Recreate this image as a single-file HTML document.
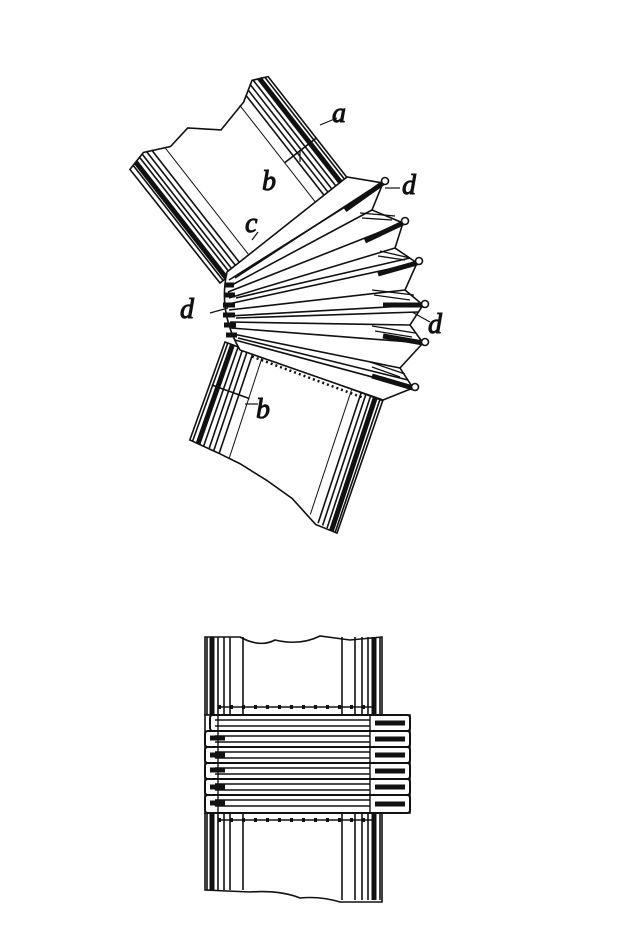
<!DOCTYPE html>
<html><head><meta charset="utf-8"><style>
html,body{margin:0;padding:0;background:#fff;}
svg{display:block}
text{font-family:"Liberation Serif",serif;font-style:italic;font-size:28px;fill:#111}
</style></head><body>
<svg width="644" height="934" viewBox="0 0 644 934" xmlns="http://www.w3.org/2000/svg" stroke="#111" fill="none">
<!-- Upper tube -->
<g transform="translate(220,283) rotate(-38)" stroke-width="1.6">
  <path d="M0,0 L-1,-145 L20,-150 L45,-138 L70,-142 L95,-120 L130,-128 L150,-140 L165,-133 L165,0 Z" fill="#fff"/>
  <line x1="4" y1="0" x2="4" y2="-146"/>
  <line x1="8" y1="0" x2="8" y2="-147" stroke-width="5"/>
  <line x1="14" y1="0" x2="14" y2="-148"/>
  <line x1="18" y1="0" x2="18" y2="-149"/>
  <line x1="23" y1="0" x2="23" y2="-149"/>
  <line x1="28" y1="0" x2="28" y2="-147"/>
  <line x1="40" y1="0" x2="40" y2="-140" stroke-width="1"/>
  <line x1="125" y1="0" x2="125" y2="-128" stroke-width="1"/>
  <line x1="136" y1="0" x2="136" y2="-132"/>
  <line x1="141" y1="0" x2="141" y2="-135"/>
  <line x1="146" y1="0" x2="146" y2="-138"/>
  <line x1="151" y1="0" x2="151" y2="-139"/>
  <line x1="157" y1="0" x2="157" y2="-137" stroke-width="5"/>
  <line x1="162" y1="0" x2="162" y2="-134"/>
  <line x1="20" y1="-4" x2="150" y2="-4" stroke-dasharray="2 4" stroke-width="2.5"/>
  <line x1="125" y1="-55" x2="165" y2="-55"/>
</g>
<!-- Lower tube -->
<g transform="translate(225,342) rotate(17)" stroke-width="1.6">
  <path d="M0,0 L168,10 L163,150 L140,148 L110,130 L80,120 L50,112 L25,108 L-5,104 Z" fill="#fff"/>
  <line x1="3" y1="0" x2="-2" y2="104"/>
  <line x1="8" y1="0" x2="4" y2="105" stroke-width="5"/>
  <line x1="14" y1="1" x2="10" y2="106"/>
  <line x1="19" y1="1" x2="16" y2="106"/>
  <line x1="24" y1="1" x2="21" y2="107"/>
  <line x1="30" y1="2" x2="27" y2="108"/>
  <line x1="40" y1="3" x2="38" y2="110" stroke-width="1"/>
  <line x1="135" y1="9" x2="132" y2="140" stroke-width="1"/>
  <line x1="145" y1="9" x2="142" y2="146"/>
  <line x1="150" y1="9" x2="147" y2="147"/>
  <line x1="155" y1="10" x2="152" y2="148"/>
  <line x1="160" y1="10" x2="157" y2="149" stroke-width="5"/>
  <line x1="165" y1="10" x2="161" y2="150"/>
  <line x1="30" y1="6" x2="150" y2="13" stroke-dasharray="2 3" stroke-width="2.5"/>
  <line x1="0" y1="45" x2="40" y2="47"/>
</g>
<!-- Fan -->
<g stroke-width="1.6">
  <path d="M227,272 L347,177 L383,183 L372,210 L403,223 L395,248 L417,263 L405,290 L423,305 L410,325 L423,343 L400,368 L413,388 L383,400 L240,350 Q218,312 227,272 Z" fill="#fff"/>
  <g>
    <line x1="229" y1="280" x2="383" y2="183"/><line x1="230" y1="286" x2="372" y2="210"/>
    <line x1="228" y1="292" x2="403" y2="223"/><line x1="229" y1="298" x2="395" y2="248"/>
    <line x1="228" y1="304" x2="417" y2="263"/><line x1="229" y1="310" x2="405" y2="290"/>
    <line x1="229" y1="316" x2="423" y2="305"/><line x1="230" y1="322" x2="410" y2="325"/>
    <line x1="231" y1="328" x2="423" y2="343"/><line x1="233" y1="334" x2="400" y2="368"/>
    <line x1="235" y1="340" x2="413" y2="388"/>
    <line x1="235" y1="278" x2="370" y2="190"/><line x1="236" y1="298" x2="410" y2="258"/>
    <line x1="236" y1="318" x2="418" y2="312"/><line x1="238" y1="338" x2="408" y2="380"/>
  </g>
  <g stroke-width="5">
    <line x1="345" y1="210" x2="383" y2="183"/><line x1="365" y1="241" x2="403" y2="223"/>
    <line x1="378" y1="274" x2="417" y2="263"/><line x1="383" y1="305" x2="423" y2="305"/>
    <line x1="383" y1="336" x2="423" y2="343"/><line x1="372" y1="376" x2="413" y2="388"/>
  </g>
  <g fill="#fff" stroke-width="1.6">
    <circle cx="385" cy="181" r="3.5"/><circle cx="405" cy="221" r="3.5"/>
    <circle cx="419" cy="261" r="3.5"/><circle cx="425" cy="304" r="3.5"/>
    <circle cx="425" cy="342" r="3.5"/><circle cx="415" cy="387" r="3.5"/>
  </g>
  <g stroke-width="1.3">
    <line x1="360" y1="213" x2="395" y2="216"/><line x1="362" y1="218" x2="392" y2="220"/>
    <line x1="380" y1="251" x2="410" y2="258"/><line x1="378" y1="256" x2="405" y2="260"/>
    <line x1="372" y1="290" x2="414" y2="295"/><line x1="374" y1="295" x2="410" y2="300"/>
    <line x1="372" y1="326" x2="415" y2="333"/><line x1="375" y1="331" x2="412" y2="337"/>
    <line x1="370" y1="362" x2="405" y2="374"/><line x1="372" y1="367" x2="400" y2="377"/>
  </g>
  <path d="M225,285 L234,285 M224,295 L235,295 M223,305 L235,305 M223,315 L235,315 M224,325 L236,325 M226,335 L237,335" stroke-width="5"/>
</g>
<!-- leaders -->
<g stroke-width="1.2">
  <path d="M320,125 L337,118"/><path d="M300,162 L300,150"/><path d="M252,240 L258,232"/>
  <path d="M385,188 L400,188"/><path d="M210,313 L228,308"/><path d="M412,312 L430,322"/>
  <path d="M245,404 L258,404"/>
</g>
<text x="332" y="122">a</text>
<text x="262" y="190">b</text>
<text x="245" y="232">c</text>
<text x="402" y="194">d</text>
<text x="180" y="318">d</text>
<text x="428" y="333">d</text>
<text x="256" y="418">b</text>
<!-- Bottom figure -->
<g stroke-width="1.6">
  <path d="M205,637 L240,637 Q260,648 275,640 Q300,646 320,636 L350,640 L382,637 L382,715 L205,715 Z" fill="#fff"/>
  <path d="M205,813 L382,813 L382,902 L340,902 Q320,896 300,898 Q280,890 250,892 L205,890 Z" fill="#fff"/>
  <g>
    <line x1="207" y1="637" x2="207" y2="890"/><line x1="212" y1="637" x2="212" y2="890" stroke-width="5"/>
    <line x1="218" y1="637" x2="218" y2="890"/><line x1="224" y1="637" x2="224" y2="890"/>
    <line x1="230" y1="637" x2="230" y2="890"/><line x1="243" y1="637" x2="243" y2="890"/>
    <line x1="342" y1="637" x2="342" y2="900"/><line x1="355" y1="637" x2="355" y2="900"/>
    <line x1="362" y1="637" x2="362" y2="900"/><line x1="368" y1="637" x2="368" y2="900"/>
    <line x1="374" y1="637" x2="374" y2="900" stroke-width="5"/><line x1="380" y1="637" x2="380" y2="900"/>
    <line x1="218" y1="707" x2="375" y2="707" stroke-dasharray="3 9" stroke-width="4"/>
    <line x1="218" y1="820" x2="375" y2="820" stroke-dasharray="3 9" stroke-width="4"/>
    <line x1="218" y1="707" x2="375" y2="707"/><line x1="218" y1="820" x2="375" y2="820"/>
  </g>
  <rect x="205" y="715" width="205" height="98" fill="#fff"/>
  <g stroke-width="2">
    <rect x="210" y="715" width="200" height="16" rx="3" fill="#fff"/>
    <rect x="205" y="731" width="205" height="16" rx="3" fill="#fff"/>
    <rect x="205" y="747" width="205" height="16" rx="3" fill="#fff"/>
    <rect x="205" y="763" width="205" height="16" rx="3" fill="#fff"/>
    <rect x="205" y="779" width="205" height="16" rx="3" fill="#fff"/>
    <rect x="205" y="795" width="205" height="18" rx="3" fill="#fff"/>
  </g>
  <g stroke-width="1.4">
    <line x1="215" y1="720" x2="370" y2="720"/><line x1="215" y1="726" x2="370" y2="726"/>
    <line x1="215" y1="736" x2="370" y2="736"/><line x1="215" y1="742" x2="370" y2="742"/>
    <line x1="215" y1="752" x2="370" y2="752"/><line x1="215" y1="758" x2="370" y2="758"/>
    <line x1="215" y1="768" x2="370" y2="768"/><line x1="215" y1="774" x2="370" y2="774"/>
    <line x1="215" y1="784" x2="370" y2="784"/><line x1="215" y1="790" x2="370" y2="790"/>
    <line x1="215" y1="800" x2="370" y2="800"/><line x1="215" y1="806" x2="370" y2="806"/>
    <line x1="218" y1="715" x2="218" y2="813"/><line x1="370" y1="715" x2="370" y2="813"/>
  </g>
  <g stroke-width="5">
    <line x1="210" y1="738" x2="225" y2="738"/><line x1="210" y1="755" x2="225" y2="755"/>
    <line x1="210" y1="770" x2="225" y2="770"/><line x1="210" y1="787" x2="225" y2="787"/>
    <line x1="210" y1="803" x2="225" y2="803"/>
    <line x1="375" y1="723" x2="405" y2="723"/><line x1="375" y1="739" x2="405" y2="739"/>
    <line x1="375" y1="755" x2="405" y2="755"/><line x1="375" y1="771" x2="405" y2="771"/>
    <line x1="375" y1="787" x2="405" y2="787"/><line x1="375" y1="804" x2="405" y2="804"/>
  </g>
</g>
</svg>
</body></html>
